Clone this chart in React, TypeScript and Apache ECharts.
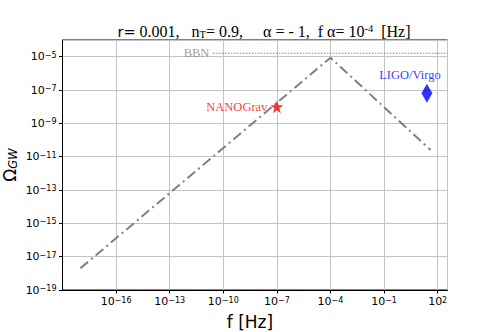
import React, { useEffect, useRef } from "react";
import * as echarts from "echarts";

// Gravitational-wave spectrum (dash-dot broken power law)
const spectrumF = [1e-18, 1e-4, 40];
const spectrumOmega = [2.0e-18, 8.7e-6, 2.5e-11];

// BBN bound (dotted)
const bbnF = [2.6e-11, 355];
const bbnOmega = [1.6e-5, 1.6e-5];

// Experimental points
const nanogravPoint = [1e-7, 1e-8];
const ligoPoint = [25, 6.3e-8];

// Axis ranges (Hz, Omega)
const xRange = [1e-19, 355];
const yRange = [1e-19, 1e-4];

const STAR = "path://M50,0 L61,35 L98,35 L68,57 L79,91 L50,70 L21,91 L32,57 L2,35 L39,35 Z";
const SANS = "DejaVu Sans";
const SERIF = "Liberation Serif";

const expLabel = (v: number) => {
  const e = Math.round(Math.log10(v));
  return "10{sup|" + (e < 0 ? "\u2212" + Math.abs(e) : String(e)) + "}";
};

const labelRich = {
  sup: { fontSize: 8, fontFamily: SANS, color: "#000", verticalAlign: "top", lineHeight: 6 },
};

export default function App() {
  const ref = useRef<HTMLDivElement>(null);
  useEffect(() => {
    if (!ref.current) return;
    const chart = echarts.init(ref.current, null, { renderer: "svg" });
    chart.setOption({
      animation: false,
      title: {
        left: 259,
        top: 18,
        textAlign: "center",
        text:
          "{a|r=}{b| 0.001,   n}{sub|T}{b|= 0.9,     \u03b1 = - 1,  f \u03b1= 10}{sup|-4}{b|  [Hz]}",
        textStyle: {
          fontWeight: "normal",
          rich: {
            a: { fontFamily: SANS, fontSize: 14.5, fontWeight: "normal", color: "#000", lineHeight: 17 },
            b: { fontFamily: SERIF, fontSize: 16, fontWeight: "normal", color: "#000", lineHeight: 17 },
            sub: { fontFamily: SERIF, fontSize: 10.5, fontWeight: "normal", color: "#000", verticalAlign: "bottom", lineHeight: 10 },
            sup: { fontFamily: SERIF, fontSize: 10.5, fontWeight: "normal", color: "#000", verticalAlign: "top", lineHeight: 8 },
          },
        },
      },
      graphic: [
        {
          type: "text",
          x: 10,
          y: 165,
          rotation: Math.PI / 2,
          style: {
            text: "\u03a9{sub|GW}",
            fontFamily: SANS,
            fontSize: 17,
            fill: "#000",
            align: "center",
            verticalAlign: "middle",
            rich: {
              sub: { fontFamily: SANS, fontSize: 11.5, fontStyle: "italic", fill: "#000", verticalAlign: "bottom", lineHeight: 12 },
            },
          },
        },
      ],
      grid: {
        left: 62.5,
        right: 50.5,
        top: 40,
        bottom: 42,
        containLabel: false,
        outerBoundsMode: "none",
        show: true,
        borderColor: "#000",
        borderWidth: 1,
      },
      xAxis: {
        type: "log",
        logBase: 10,
        min: xRange[0],
        max: xRange[1],
        interval: 3,
        name: "f [Hz]",
        nameLocation: "middle",
        nameGap: 23,
        nameTextStyle: { fontFamily: SANS, fontSize: 17, color: "#000", padding: [0, 10, 0, 0] },
        axisLine: { show: true, lineStyle: { color: "#000", width: 1 } },
        axisTick: { show: true, length: 3.5, inside: false, lineStyle: { color: "#000" } },
        axisLabel: {
          showMinLabel: false,
          showMaxLabel: false,
          margin: 6,
          fontFamily: SANS,
          fontSize: 11,
          color: "#000",
          formatter: expLabel,
          rich: labelRich,
        },
        splitLine: { show: true, lineStyle: { color: "#c4c4c4", width: 1 } },
        minorTick: { show: false },
      },
      yAxis: {
        type: "log",
        logBase: 10,
        min: yRange[0],
        max: yRange[1],
        interval: 2,
        axisLine: { show: true, lineStyle: { color: "#000", width: 1 } },
        axisTick: { show: true, length: 3.5, inside: false, lineStyle: { color: "#000" } },
        axisLabel: {
          showMinLabel: true,
          showMaxLabel: false,
          margin: 6,
          fontFamily: SANS,
          fontSize: 11,
          color: "#000",
          formatter: expLabel,
          rich: labelRich,
        },
        splitLine: { show: true, lineStyle: { color: "#c4c4c4", width: 1 } },
      },
      series: [
        {
          type: "line",
          data: spectrumF.map((f, i) => [f, spectrumOmega[i]]),
          showSymbol: false,
          symbol: "none",
          lineStyle: { color: "#808080", width: 2, type: [10, 4, 2, 4] },
          z: 3,
        },
        {
          type: "line",
          data: bbnF.map((f, i) => [f, bbnOmega[i]]),
          showSymbol: false,
          symbol: "none",
          lineStyle: { color: "#808080", width: 1, type: [1.5, 1.5] },
          z: 2,
        },
        {
          type: "scatter",
          data: [[bbnF[0], bbnOmega[0]]],
          symbolSize: 1,
          itemStyle: { color: "rgba(0,0,0,0)" },
          label: {
            show: true,
            position: "left",
            distance: 3,
            formatter: "BBN",
            fontFamily: SERIF,
            fontSize: 12.5,
            color: "#858585",
          },
        },
        {
          type: "scatter",
          data: [nanogravPoint],
          symbol: STAR,
          symbolSize: 13,
          itemStyle: { color: "#ff0000" },
          label: {
            show: true,
            position: "left",
            distance: 3,
            formatter: "NANOGrav",
            fontFamily: SERIF,
            fontSize: 12.5,
            color: "#ff0000",
          },
          z: 5,
        },
        {
          type: "scatter",
          data: [ligoPoint],
          symbol: "diamond",
          symbolSize: [11, 19],
          itemStyle: { color: "#0000ff" },
          label: {
            show: true,
            position: "top",
            distance: 2,
            offset: [-17, 0],
            formatter: "LIGO/Virgo",
            fontFamily: SERIF,
            fontSize: 12.5,
            color: "#0000ff",
          },
          z: 5,
        },
      ],
    });
    return () => chart.dispose();
  }, []);
  return (
    <div
      ref={ref}
      style={{ position: "fixed", left: 0, top: 0, width: 498, height: 332, background: "#fff" }}
    />
  );
}
